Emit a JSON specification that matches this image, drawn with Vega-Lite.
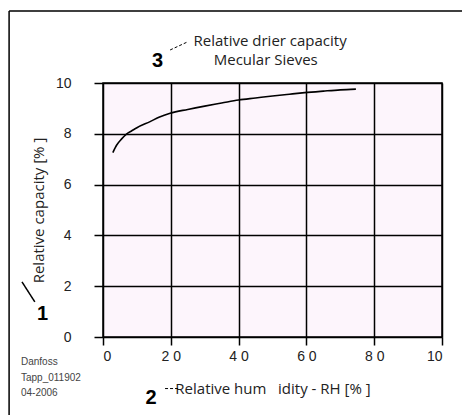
{
  "$schema": "https://vega.github.io/schema/vega-lite/v6.json",
  "width": 339,
  "height": 254,
  "autosize": {"type": "none"},
  "padding": {"left": 103, "top": 83, "right": 20, "bottom": 78},
  "background": "white",
  "config": {
    "font": "Liberation Sans",
    "view": {"fill": "#fdf5fc", "stroke": "black", "strokeWidth": 1.5},
    "axis": {
      "ticks": true, "tickColor": "black", "tickWidth": 1.5, "tickOpacity": 1,
      "grid": true, "gridColor": "black", "gridWidth": 1.5, "gridOpacity": 1,
      "domain": false,
      "labelFontSize": 14, "labelColor": "#222",
      "titleFont": "Open Sans", "titleFontSize": 15, "titleFontWeight": "normal", "titleColor": "#222"
    },
    "axisX": {"tickSize": 8, "labelPadding": 4, "titlePadding": 18},
    "axisY": {"tickSize": 9, "labelPadding": 23, "titlePadding": 9}
  },
  "datasets": {
    "curve": [
      {"rh": 2.9, "cap": 72.6},
      {"rh": 4, "cap": 75.5},
      {"rh": 5.5, "cap": 78},
      {"rh": 7, "cap": 80},
      {"rh": 8.5, "cap": 81.2},
      {"rh": 10, "cap": 82.4},
      {"rh": 13.9, "cap": 84.8},
      {"rh": 16.5, "cap": 86.5},
      {"rh": 19.8, "cap": 88.1},
      {"rh": 25, "cap": 89.6},
      {"rh": 30, "cap": 90.9},
      {"rh": 35, "cap": 92.1},
      {"rh": 40, "cap": 93.3},
      {"rh": 45, "cap": 94.1},
      {"rh": 50, "cap": 94.9},
      {"rh": 55, "cap": 95.6},
      {"rh": 59.5, "cap": 96.2},
      {"rh": 65, "cap": 96.8},
      {"rh": 70, "cap": 97.3},
      {"rh": 74.6, "cap": 97.6}
    ],
    "notes": [
      {"x": 16.1, "y": 108.7, "t": "3"},
      {"x": 14.2, "y": -24.0, "t": "2"},
      {"x": -17.8, "y": 8.9, "t": "1"}
    ],
    "titles": [
      {"x": 49.3, "y": 116.5, "t": "Relative drier capacity"},
      {"x": 48.0, "y": 108.9, "t": "Mecular Sieves"}
    ],
    "stamp": [
      {"x": -24.2, "y": -9.8, "t": "Danfoss"},
      {"x": -24.2, "y": -16.1, "t": "Tapp_011902"},
      {"x": -24.2, "y": -22.0, "t": "04-2006"}
    ],
    "lines": [
      {"x": -27.7, "y": 128.3, "x2": 105.9, "y2": 128.3, "d": "solid"},
      {"x": -27.7, "y": 128.3, "x2": -27.7, "y2": -30.7, "d": "solid"},
      {"x": 19.8, "y": 113.0, "x2": 24.8, "y2": 116.1, "d": "dash"},
      {"x": 18.3, "y": -20.3, "x2": 22.7, "y2": -20.3, "d": "dash"},
      {"x": -20.1, "y": 13.8, "x2": -23.9, "y2": 21.7, "d": "solid"}
    ]
  },
  "encoding": {
    "x": {
      "field": "x", "type": "quantitative",
      "scale": {"domain": [0, 100], "nice": false, "zero": false},
      "axis": {
        "values": [0, 20, 40, 60, 80, 100],
        "labelExpr": "datum.value == 0 ? '0' : datum.value == 100 ? '10' : (datum.value / 10) + ' 0'",
        "title": "Relative hum\u00a0\u00a0 idity - RH [% ]"
      }
    },
    "y": {
      "field": "y", "type": "quantitative",
      "scale": {"domain": [0, 100], "nice": false, "zero": false},
      "axis": {
        "values": [0, 20, 40, 60, 80, 100],
        "labelExpr": "datum.value == 100 ? '10' : '' + (datum.value / 10)",
        "title": "Relative capacity [% ]"
      }
    }
  },
  "layer": [
    {
      "data": {"name": "curve"},
      "mark": {"type": "line", "color": "black", "strokeWidth": 1.6, "interpolate": "monotone"},
      "encoding": {
        "x": {"field": "rh", "type": "quantitative"},
        "y": {"field": "cap", "type": "quantitative"}
      }
    },
    {
      "data": {"name": "lines"},
      "mark": {"type": "rule", "color": "black", "clip": false},
      "encoding": {
        "x2": {"field": "x2"},
        "y2": {"field": "y2"},
        "strokeWidth": {"condition": {"test": "datum.d == 'dash'", "value": 1}, "value": 1.5},
        "strokeDash": {"condition": {"test": "datum.d == 'dash'", "value": [3, 2]}, "value": [1, 0]}
      }
    },
    {
      "data": {"name": "titles"},
      "mark": {"type": "text", "color": "#222", "fontSize": 15, "font": "Open Sans", "clip": false},
      "encoding": {"text": {"field": "t"}}
    },
    {
      "data": {"name": "notes"},
      "mark": {"type": "text", "color": "black", "fontSize": 20, "fontWeight": "bold", "clip": false, "font": "Liberation Sans"},
      "encoding": {"text": {"field": "t"}}
    },
    {
      "data": {"name": "stamp"},
      "mark": {"type": "text", "color": "#444", "fontSize": 10, "align": "left", "clip": false, "font": "Liberation Sans"},
      "encoding": {"text": {"field": "t"}}
    }
  ]
}
